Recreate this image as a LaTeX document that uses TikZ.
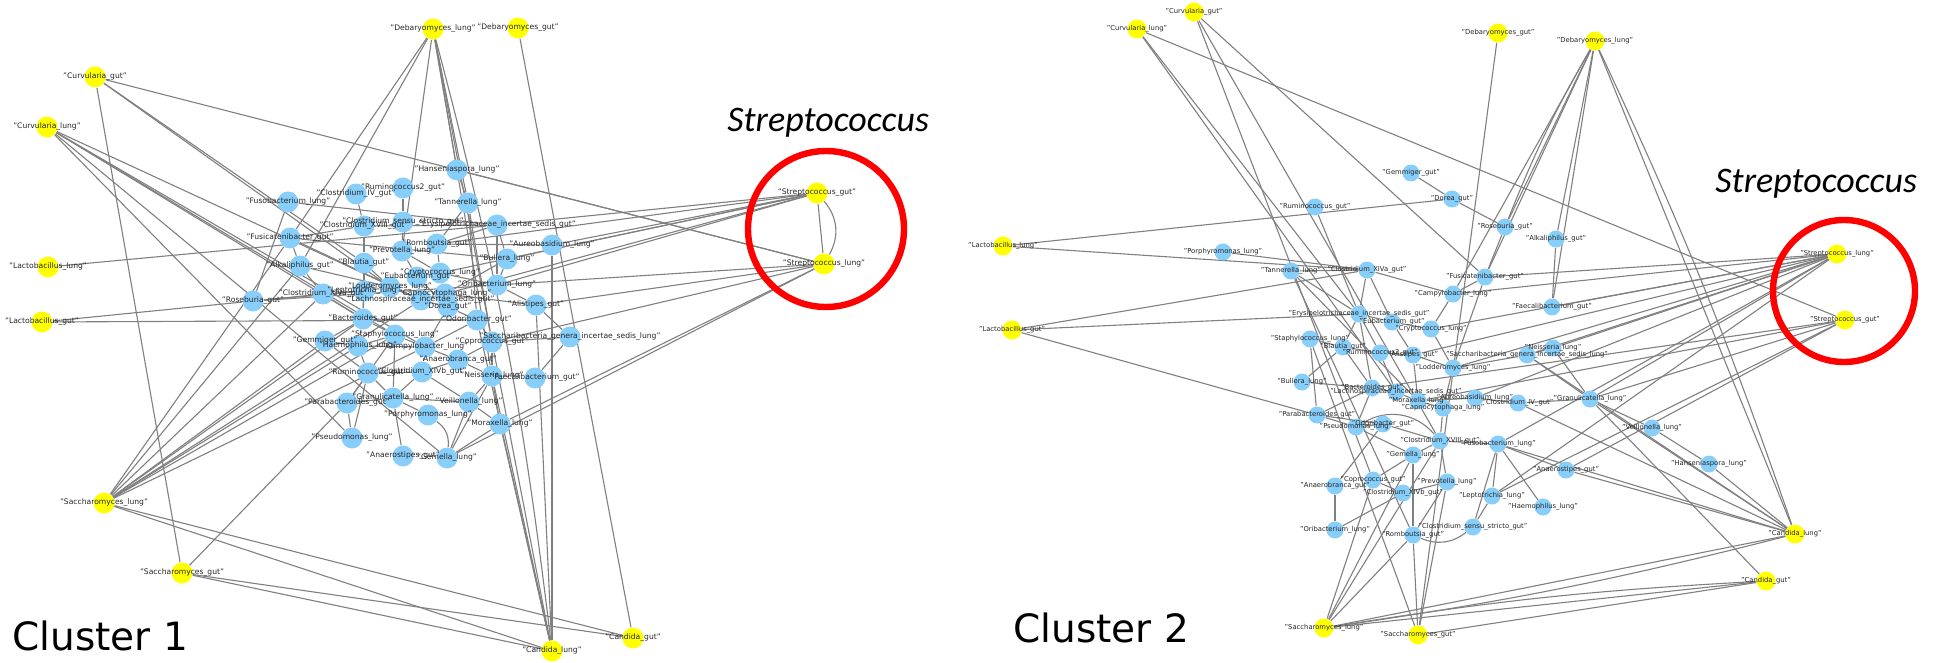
\documentclass[tikz,border=0pt]{standalone}
\usepackage{fontspec}
\setmainfont{DejaVu Sans}
\newfontfamily\carl{Carlito}
\pgfdeclarelayer{bg}
\pgfdeclarelayer{fg}
\pgfsetlayers{bg,main,fg}
\definecolor{nblue}{RGB}{135,206,250}
\definecolor{nyel}{RGB}{255,255,0}
\definecolor{egray}{RGB}{128,128,128}
\tikzset{
  ya/.style={circle,fill=nyel,draw=none,minimum size=10.5pt,inner sep=0pt},
  ba/.style={circle,fill=nblue,draw=none,minimum size=10.5pt,inner sep=0pt},
  yb/.style={circle,fill=nyel,draw=none,minimum size=9.5pt,inner sep=0pt},
  bb/.style={circle,fill=nblue,draw=none,minimum size=8.5pt,inner sep=0pt},
  lbla/.style={inner sep=0pt,font=\fontsize{3.8}{4}\selectfont,text=black!85},
  lblb/.style={inner sep=0pt,font=\fontsize{3.4}{4}\selectfont,text=black!85},
  edge/.style={draw=egray,line width=0.55pt},
  ring/.style={draw=red,line width=3.2pt},
  clus/.style={inner sep=0pt,anchor=base west,font=\fontsize{19.5}{23}\selectfont},
  strep/.style={inner sep=0pt,anchor=base west,font=\carl\itshape\fontsize{18}{21}\selectfont}
}
\newcommand{\ga}[5]{\node[#4] (#1) at (#2,#3) {};\begin{pgfonlayer}{fg}\node[lbla] (#1-t) at (#2,#3) {"#5"};\end{pgfonlayer}}
\newcommand{\gb}[5]{\node[#4] (#1) at (#2,#3) {};\begin{pgfonlayer}{fg}\node[lblb] (#1-t) at (#2,#3) {"#5"};\end{pgfonlayer}}
\begin{document}
\begin{tikzpicture}[x=0.5pt,y=-0.5pt]
\useasboundingbox (0,0) rectangle (1947,663);
\begin{pgfonlayer}{bg}
\fill[white] (0,0) rectangle (1947,663);
\end{pgfonlayer}
% ---------------- Cluster 1 ----------------
\ga{A-debl}{433}{29}{ya}{Debaryomyces\_lung}
\ga{A-debg}{518}{28}{ya}{Debaryomyces\_gut}
\ga{A-curg}{95}{77}{ya}{Curvularia\_gut}
\ga{A-curl}{47}{127}{ya}{Curvularia\_lung}
\ga{A-lacl}{48}{267}{ya}{Lactobacillus\_lung}
\ga{A-lacg}{42}{322}{ya}{Lactobacillus\_gut}
\ga{A-sacl}{104}{503}{ya}{Saccharomyces\_lung}
\ga{A-sacg}{182}{573}{ya}{Saccharomyces\_gut}
\ga{A-canl}{552}{651}{ya}{Candida\_lung}
\ga{A-cang}{633}{638}{ya}{Candida\_gut}
\ga{A-strg}{817}{193}{ya}{Streptococcus\_gut}
\ga{A-strl}{824}{264}{ya}{Streptococcus\_lung}
\ga{A-han}{457}{170}{ba}{Hanseniaspora\_lung}
\ga{A-rum2}{403}{188}{ba}{Ruminococcus2\_gut}
\ga{A-civ}{356}{194}{ba}{Clostridium\_IV\_gut}
\ga{A-fus}{288}{202}{ba}{Fusobacterium\_lung}
\ga{A-tan}{468}{203}{ba}{Tannerella\_lung}
\ga{A-css}{403}{222}{ba}{Clostridium\_sensu\_stricto\_gut}
\ga{A-cxviii}{364}{226}{ba}{Clostridium\_XVIII\_gut}
\ga{A-ery}{497}{225}{ba}{Erysipelotrichaceae\_incertae\_sedis\_gut}
\ga{A-fcb}{290}{238}{ba}{Fusicatenibacter\_gut}
\ga{A-aur}{552}{245}{ba}{Aureobasidium\_lung}
\ga{A-rom}{437}{244}{ba}{Romboutsia\_gut}
\ga{A-pre}{402}{251}{ba}{Prevotella\_lung}
\ga{A-bul}{507}{259}{ba}{Bullera\_lung}
\ga{A-alk}{300}{266}{ba}{Alkaliphilus\_gut}
\ga{A-bla}{364}{263}{ba}{Blautia\_gut}
\ga{A-eub}{417}{277}{ba}{Eubacterium\_gut}
\ga{A-cry}{440}{273}{ba}{Cryptococcus\_lung}
\ga{A-ori}{497}{285}{ba}{Oribacterium\_lung}
\ga{A-lod}{390}{287}{ba}{Lodderomyces\_lung}
\ga{A-lep}{364}{291}{ba}{Leptotrichia\_lung}
\ga{A-cxiva}{323}{294}{ba}{Clostridium\_XIVa\_gut}
\ga{A-ros}{253}{301}{ba}{Roseburia\_gut}
\ga{A-lac}{421}{300}{ba}{Lachnospiraceae\_incertae\_sedis\_gut}
\ga{A-cap}{445}{294}{ba}{Capnocytophaga\_lung}
\ga{A-dor}{448}{307}{ba}{Dorea\_gut}
\ga{A-ali}{536}{305}{ba}{Alistipes\_gut}
\ga{A-bac}{363}{319}{ba}{Bacteroides\_gut}
\ga{A-odo}{477}{320}{ba}{Odoribacter\_gut}
\ga{A-gem}{325}{341}{ba}{Gemmiger\_gut}
\ga{A-sta}{395}{335}{ba}{Staphylococcus\_lung}
\ga{A-hae}{358}{346}{ba}{Haemophilus\_lung}
\ga{A-cam}{425}{347}{ba}{Campylobacter\_lung}
\ga{A-cop}{492}{342}{ba}{Coprococcus\_gut}
\ga{A-sac}{570}{337}{ba}{Saccharibacteria\_genera\_incertae\_sedis\_lung}
\ga{A-ana}{458}{360}{ba}{Anaerobranca\_gut}
\ga{A-rum}{368}{373}{ba}{Ruminococcus\_gut}
\ga{A-cxivb}{422}{372}{ba}{Clostridium\_XIVb\_gut}
\ga{A-nei}{492}{376}{ba}{Neisseria\_lung}
\ga{A-fae}{535}{378}{ba}{Faecalibacterium\_gut}
\ga{A-gra}{393}{398}{ba}{Granulicatella\_lung}
\ga{A-par}{347}{403}{ba}{Parabacteroides\_gut}
\ga{A-vei}{469}{402}{ba}{Veillonella\_lung}
\ga{A-por}{428}{415}{ba}{Porphyromonas\_lung}
\ga{A-mor}{500}{424}{ba}{Moraxella\_lung}
\ga{A-pse}{352}{438}{ba}{Pseudomonas\_lung}
\ga{A-anas}{403}{456}{ba}{Anaerostipes\_gut}
\ga{A-gml}{447}{458}{ba}{Gemella\_lung}
% ---------------- Cluster 2 ----------------
\gb{B-curg}{1194}{12}{yb}{Curvularia\_gut}
\gb{B-curl}{1137}{29}{yb}{Curvularia\_lung}
\gb{B-debg}{1498}{33}{yb}{Debaryomyces\_gut}
\gb{B-debl}{1595}{41}{yb}{Debaryomyces\_lung}
\gb{B-lacl}{1003}{246}{yb}{Lactobacillus\_lung}
\gb{B-lacg}{1012}{330}{yb}{Lactobacillus\_gut}
\gb{B-strl}{1837}{254}{yb}{Streptococcus\_lung}
\gb{B-strg}{1845}{320}{yb}{Streptococcus\_gut}
\gb{B-canl}{1795}{534}{yb}{Candida\_lung}
\gb{B-cang}{1766}{581}{yb}{Candida\_gut}
\gb{B-sacl}{1324}{628}{yb}{Saccharomyces\_lung}
\gb{B-sacg}{1418}{635}{yb}{Saccharomyces\_gut}
\gb{B-gmm}{1411}{173}{bb}{Gemmiger\_gut}
\gb{B-dor}{1452}{199}{bb}{Dorea\_gut}
\gb{B-rum}{1315}{207}{bb}{Ruminococcus\_gut}
\gb{B-ros}{1505}{227}{bb}{Roseburia\_gut}
\gb{B-alk}{1556}{239}{bb}{Alkaliphilus\_gut}
\gb{B-por}{1223}{252}{bb}{Porphyromonas\_lung}
\gb{B-tan}{1291}{271}{bb}{Tannerella\_lung}
\gb{B-cxiva}{1367}{270}{bb}{Clostridium\_XIVa\_gut}
\gb{B-fcb}{1485}{277}{bb}{Fusicatenibacter\_gut}
\gb{B-cam}{1453}{294}{bb}{Campylobacter\_lung}
\gb{B-fae}{1552}{307}{bb}{Faecalibacterium\_gut}
\gb{B-ery}{1359}{314}{bb}{Erysipelotrichaceae\_incertae\_sedis\_gut}
\gb{B-eub}{1392}{322}{bb}{Eubacterium\_gut}
\gb{B-cry}{1431}{329}{bb}{Cryptococcus\_lung}
\gb{B-sta}{1310}{339}{bb}{Staphylococcus\_lung}
\gb{B-bla}{1343}{347}{bb}{Blautia\_gut}
\gb{B-rum2}{1380}{353}{bb}{Ruminococcus2\_gut}
\gb{B-ali}{1413}{355}{bb}{Alistipes\_gut}
\gb{B-sac}{1527}{355}{bb}{Saccharibacteria\_genera\_incertae\_sedis\_lung}
\gb{B-nei}{1553}{348}{bb}{Neisseria\_lung}
\gb{B-lod}{1453}{368}{bb}{Lodderomyces\_lung}
\gb{B-bul}{1302}{382}{bb}{Bullera\_lung}
\gb{B-bac}{1372}{388}{bb}{Bacteroides\_gut}
\gb{B-lac}{1396}{392}{bb}{Lachnospiraceae\_incertae\_sedis\_gut}
\gb{B-mor}{1418}{401}{bb}{Moraxella\_lung}
\gb{B-aur}{1475}{398}{bb}{Aureobasidium\_lung}
\gb{B-civ}{1518}{403}{bb}{Clostridium\_IV\_gut}
\gb{B-gra}{1590}{399}{bb}{Granulicatella\_lung}
\gb{B-cap}{1443}{408}{bb}{Capnocytophaga\_lung}
\gb{B-par}{1317}{415}{bb}{Parabacteroides\_gut}
\gb{B-odo}{1383}{424}{bb}{Odoribacter\_gut}
\gb{B-pse}{1356}{427}{bb}{Pseudomonas\_lung}
\gb{B-vei}{1652}{428}{bb}{Veillonella\_lung}
\gb{B-cxviii}{1440}{441}{bb}{Clostridium\_XVIII\_gut}
\gb{B-fus}{1498}{444}{bb}{Fusobacterium\_lung}
\gb{B-gml}{1413}{455}{bb}{Gemella\_lung}
\gb{B-han}{1709}{464}{bb}{Hanseniaspora\_lung}
\gb{B-anas}{1566}{470}{bb}{Anaerostipes\_gut}
\gb{B-cop}{1373}{480}{bb}{Coprococcus\_gut}
\gb{B-pre}{1447}{482}{bb}{Prevotella\_lung}
\gb{B-ana}{1335}{486}{bb}{Anaerobranca\_gut}
\gb{B-cxivb}{1403}{493}{bb}{Clostridium\_XIVb\_gut}
\gb{B-lep}{1492}{496}{bb}{Leptotrichia\_lung}
\gb{B-hae}{1543}{507}{bb}{Haemophilus\_lung}
\gb{B-css}{1473}{527}{bb}{Clostridium\_sensu\_stricto\_gut}
\gb{B-ori}{1335}{530}{bb}{Oribacterium\_lung}
\gb{B-rom}{1413}{535}{bb}{Romboutsia\_gut}
% ---------------- edges ----------------
\begin{pgfonlayer}{bg}
\foreach \a/\b in {A-debl/A-fcb,A-debl/A-alk,A-debl/A-pre,A-debl/A-han,A-debl/A-tan,A-debl/A-cop,A-debl/A-nei,
A-debg/A-cang,
A-curg/A-sacg,A-curg/A-strl,A-curg/A-bla,A-curg/A-lod,
A-curl/A-lac,A-curl/A-sta,A-curl/A-cam,A-curl/A-bac,A-curl/A-pse,A-curl/A-gml,
A-lacl/A-ery,A-lacg/A-ros,A-lacg/A-odo,
A-sacl/A-gem,A-sacl/A-hae,A-sacl/A-sta,A-sacl/A-cam,A-sacl/A-lac,A-sacl/A-cxiva,A-sacl/A-fcb,A-sacl/A-alk,A-sacl/A-bac,A-sacl/A-canl,A-sacl/A-cang,
A-sacg/A-par,A-sacg/A-canl,A-sacg/A-cang,
A-canl/A-aur,A-canl/A-nei,A-canl/A-cop,A-canl/A-ali,A-canl/A-odo,A-canl/A-mor,
A-strg/A-strl,A-strg/A-aur,A-strg/A-bul,A-strg/A-ery,A-strg/A-ori,A-strg/A-rom,A-strg/A-cry,A-strg/A-cap,
A-strl/A-ali,A-strl/A-ori,A-strl/A-mor,A-strl/A-gml,A-strl/A-han,A-strl/A-cop,
A-civ/A-cxviii,A-rum2/A-css,A-han/A-tan,A-tan/A-rom,A-tan/A-cop,A-tan/A-odo,A-css/A-pre,A-cxviii/A-bla,A-cxviii/A-fcb,A-cxviii/A-ery,
A-fcb/A-alk,A-fcb/A-bul,A-fcb/A-lac,A-alk/A-cxiva,A-alk/A-lod,A-bla/A-lod,A-bla/A-lep,A-bla/A-bac,A-pre/A-eub,A-pre/A-cry,
A-rom/A-cry,A-rom/A-ery,A-rom/A-aur,A-ery/A-bul,A-ery/A-ori,A-bul/A-ori,A-bul/A-cap,A-eub/A-lac,A-eub/A-dor,A-cry/A-cap,A-cry/A-ori,
A-lod/A-lac,A-lod/A-lep,A-lep/A-cxiva,A-lep/A-bac,A-cxiva/A-ros,A-cxiva/A-bac,A-ros/A-ori,A-ros/A-lep,A-lac/A-dor,A-lac/A-cap,
A-dor/A-odo,A-cap/A-ali,A-ori/A-ali,A-bac/A-sta,A-bac/A-gem,A-bac/A-hae,A-bac/A-odo,A-odo/A-cop,A-odo/A-cam,A-gem/A-hae,A-gem/A-rum,
A-sta/A-cam,A-sta/A-hae,A-sta/A-gra,A-hae/A-rum,A-hae/A-cam,A-cam/A-ana,A-cam/A-cxivb,A-cam/A-dor,A-cop/A-sac,A-cop/A-nei,A-cop/A-ana,
A-sac/A-fae,A-sac/A-ali,A-ana/A-cxivb,A-ana/A-nei,A-rum/A-par,A-rum/A-gra,A-rum/A-cxivb,A-cxivb/A-gra,A-cxivb/A-vei,A-nei/A-vei,A-nei/A-mor,
A-gra/A-por,A-gra/A-vei,A-gra/A-par,A-gra/A-anas,A-par/A-pse,A-par/A-sta,A-vei/A-gml,A-vei/A-mor,A-pse/A-rum,A-gml/A-mor,A-gml/A-nei,A-ros/A-fus,A-fus/A-ery,
B-curl/B-strg,B-curl/B-ery,B-curl/B-lac,B-curg/B-fcb,B-curg/B-cop,B-curg/B-cxviii,
B-lacl/B-dor,B-lacl/B-cxiva,B-lacg/B-cxiva,B-lacg/B-ery,B-lacg/B-par,B-por/B-cxiva,B-rum/B-ery,B-gmm/B-dor,
B-tan/B-cxiva,B-tan/B-ery,B-tan/B-mor,B-tan/B-rom,B-cxiva/B-cam,B-cxiva/B-ery,B-cxiva/B-eub,
B-debg/B-sacg,B-debl/B-ros,B-debl/B-fcb,B-debl/B-alk,B-debl/B-fae,B-debl/B-cam,B-debl/B-canl,
B-dor/B-ros,B-ros/B-fcb,B-fcb/B-cam,B-fcb/B-lod,B-alk/B-fae,
B-strl/B-fcb,B-strl/B-fae,B-strl/B-cam,B-strl/B-cry,B-strl/B-lod,B-strl/B-sac,B-strl/B-nei,B-strl/B-gra,B-strl/B-aur,B-strl/B-fus,B-strl/B-ali,B-strl/B-lep,
B-strg/B-bac,B-strg/B-gra,B-strg/B-anas,B-strg/B-lep,B-strg/B-mor,
B-canl/B-han,B-canl/B-anas,B-canl/B-gra,B-canl/B-fus,B-canl/B-sac,B-canl/B-sacl,B-canl/B-civ,
B-cang/B-gra,B-cang/B-sacg,B-cang/B-sacl,
B-sacl/B-rom,B-sacl/B-cxviii,B-sacl/B-gml,B-sacl/B-cop,B-sacg/B-rom,B-sacg/B-sta,B-sacg/B-pre,
B-vei/B-han,B-vei/B-gra,
B-ery/B-eub,B-ery/B-bla,B-ery/B-bac,B-ery/B-rum2,B-eub/B-cry,B-eub/B-ali,B-cry/B-cam,B-cry/B-lod,B-sta/B-bla,B-sta/B-par,
B-bla/B-rum2,B-bla/B-bul,B-bla/B-bac,B-rum2/B-ali,B-rum2/B-lac,B-ali/B-lod,B-ali/B-mor,B-lod/B-sac,B-lod/B-cap,B-bul/B-bac,
B-bac/B-lac,B-bac/B-par,B-bac/B-pse,B-lac/B-mor,B-mor/B-cap,B-mor/B-aur,B-cap/B-cxviii,B-aur/B-civ,B-civ/B-gra,
B-par/B-pse,B-par/B-odo,B-pse/B-odo,B-pse/B-gml,B-odo/B-cxviii,B-odo/B-ana,B-cxviii/B-gml,B-cxviii/B-fus,B-cxviii/B-pre,
B-fus/B-lep,B-fus/B-hae,B-fus/B-anas,B-fus/B-css,B-gml/B-cop,B-gml/B-rom,B-pre/B-cxivb,B-pre/B-rom,B-cxivb/B-ori,B-cxivb/B-cop,
B-lep/B-css,B-sac/B-nei,B-sac/B-gra,B-nei/B-gra,B-ana/B-ori} \draw[edge] (\a) -- (\b);
\draw[edge] (A-strg) to[bend left=35] (A-strl);
\draw[edge] (A-por) to[bend left=30] (A-gml);
\draw[edge] (A-debl) to[bend left=4] (A-canl);
\draw[edge] (B-debl) to[bend left=3] (B-canl);
\draw[edge] (B-debl) to[bend right=4] (B-ros);
\draw[edge] (B-canl) to[bend left=3] (B-sacl);
\draw[edge] (B-cang) to[bend right=3] (B-sacl);
\draw[edge] (B-css) to[bend left=30] (B-rom);
\draw[edge] (B-cxviii) to[bend right=40] (B-pse);
\end{pgfonlayer}
% ---------------- annotations ----------------
\draw[ring] (826,229) circle[radius=78];
\draw[ring] (1844,291) circle[radius=71];
\node[strep] (s1) at (727,132) {Streptococcus};
\node[strep] (s2) at (1715,193) {Streptococcus};
\node[clus] (c1) at (12,650) {Cluster 1};
\node[clus] (c2) at (1013,642) {Cluster 2};
\end{tikzpicture}
\end{document}
